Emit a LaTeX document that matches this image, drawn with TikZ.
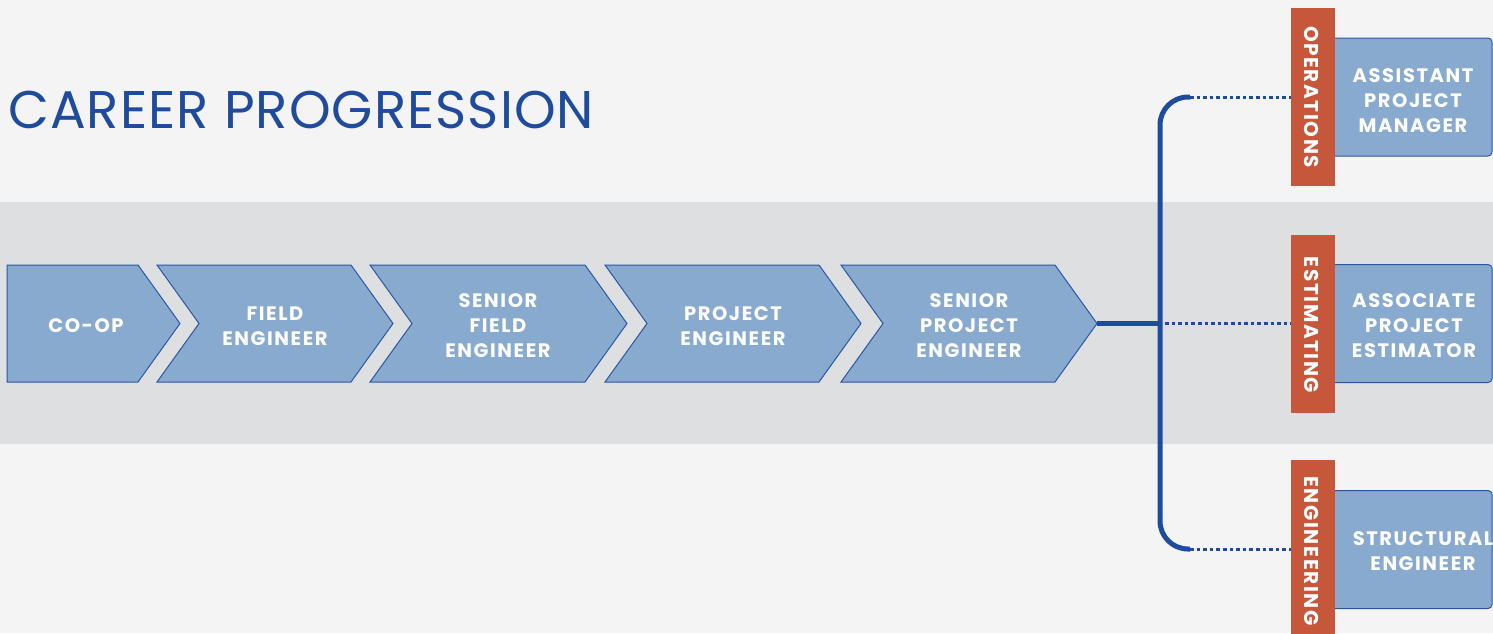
\documentclass[tikz,border=0pt]{standalone}
\usepackage{fontspec}
\setmainfont{Poppins}
\newfontfamily\lblfont[LetterSpace=8]{Poppins}
\newfontfamily\titlefont[LetterSpace=2]{Poppins}
\definecolor{bgc}{HTML}{F3F4F3}
\definecolor{bandc}{HTML}{DEDFE0}
\definecolor{chevfill}{HTML}{88AACF}
\definecolor{chevline}{HTML}{2B56A3}
\definecolor{mainblue}{HTML}{1D4C9F}
\definecolor{tabor}{HTML}{C7573A}
\definecolor{titleblue}{HTML}{1F4B9C}
\begin{document}
\begin{tikzpicture}[x=1pt,y=-1pt,
  chev/.style={fill=chevfill, draw=chevline, line width=1pt, line join=miter},
  lbl/.style={text=white, font=\lblfont\fontsize{19.5}{25}\selectfont\bfseries, align=center, inner sep=0pt},
  tabbox/.style={fill=tabor, minimum width=44pt, minimum height=178pt, inner sep=0pt},
  tablbl/.style={text=white, font=\lblfont\fontsize{20}{22}\selectfont\bfseries, rotate=-90, inner sep=0pt},
  rolebox/.style={fill=chevfill, draw=chevline, line width=1pt, rounded corners=4pt, minimum width=172pt, minimum height=118pt, inner sep=0pt},
  mainline/.style={draw=mainblue, line width=5pt},
  dotline/.style={draw=mainblue, line width=3pt, dash pattern=on 3.6pt off 3pt}]
\useasboundingbox (0,0) rectangle (1493,633);
\fill[bgc] (0,0) rectangle (1493,633);
\fill[bandc] (0,202) rectangle (1493,444);

% title
\node[anchor=base west, text=titleblue, font=\titlefont\fontsize{53}{60}\selectfont, inner sep=0pt] (title) at (8,128) {CAREER PROGRESSION};

% chevrons
\draw[chev] (7,265) -- (138,265) -- (180,323.5) -- (138,382) -- (7,382) -- cycle;
\draw[chev] (157,265) -- (351,265) -- (393,323.5) -- (351,382) -- (157,382) -- (199,323.5) -- cycle;
\draw[chev] (370,265) -- (585,265) -- (627,323.5) -- (585,382) -- (370,382) -- (412,323.5) -- cycle;
\draw[chev] (605,265) -- (819,265) -- (861,323.5) -- (819,382) -- (605,382) -- (647,323.5) -- cycle;
\draw[chev] (841,265) -- (1055,265) -- (1097,323.5) -- (1055,382) -- (841,382) -- (883,323.5) -- cycle;
\coordinate (tip) at (1097,323.5);

\node[lbl] (coop) at (86,326) {CO-OP};
\node[lbl] (fe) at (275,326) {FIELD\\ENGINEER};
\node[lbl] (sfe) at (498,326) {SENIOR\\FIELD\\ENGINEER};
\node[lbl] (pe) at (733,326) {PROJECT\\ENGINEER};
\node[lbl] (spe) at (969,326) {SENIOR\\PROJECT\\ENGINEER};

% role boxes
\node[rolebox] (apm) at (1406,97) {};
\node[rolebox] (ape) at (1406,323.5) {};
\node[rolebox] (se) at (1406,549.5) {};
\node[lbl] (apmt) at (1413,101) {ASSISTANT\\PROJECT\\MANAGER};
\node[lbl] (apet) at (1414,326) {ASSOCIATE\\PROJECT\\ESTIMATOR};
\node[lbl] (set) at (1423,551) {STRUCTURAL\\ENGINEER};

% tabs
\node[tabbox] (ops) at (1313,97) {};
\node[tabbox] (est) at (1313,324) {};
\node[tabbox] (eng) at (1313,549) {};
\node[tablbl] at (1312,97) {OPERATIONS};
\node[tablbl] at (1312,325) {ESTIMATING};
\node[tablbl] at (1312,551) {ENGINEERING};

% connectors
\coordinate (j) at (1160,323.5);
\coordinate (topend) at (1190,97);
\coordinate (botend) at (1190,549);
\draw[mainline] (tip) -- (j);
\draw[mainline, rounded corners=28pt] (topend) -- (1160,97) -- (1160,549) -- (botend);
\draw[dotline] (topend) -- (ops.west);
\draw[dotline] (1165,323.5) -- (est.west |- j);
\draw[dotline] (botend) -- (eng.west);
\end{tikzpicture}
\end{document}
